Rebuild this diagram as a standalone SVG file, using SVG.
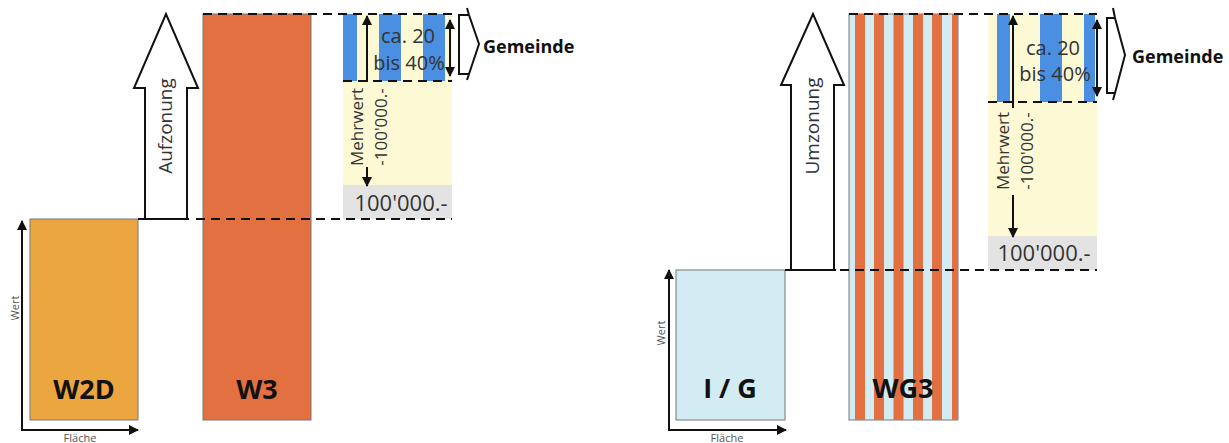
<svg xmlns="http://www.w3.org/2000/svg" width="1229" height="443" viewBox="0 0 1229 443">
<defs>
<style>
.txt{font-family:"Open Sans","Liberation Sans",sans-serif;fill:#333}
.big{font-family:"Open Sans","Liberation Sans",sans-serif;font-weight:700;font-size:27px;fill:#111;text-anchor:middle}
.ax{font-family:"Open Sans","Liberation Sans",sans-serif;font-size:11px;fill:#555;text-anchor:middle}
.gem{font-family:"Open Sans","Liberation Sans",sans-serif;font-weight:700;font-size:18px;fill:#111}
.dash{stroke:#111;stroke-width:2;stroke-dasharray:9 6;fill:none}
.ln{stroke:#111;stroke-width:2;fill:none}
.out{stroke:#111;stroke-width:2;fill:#fff;stroke-linejoin:miter}
.box{stroke:#777;stroke-width:1}
</style>
<marker id="ah" viewBox="0 0 10 10" refX="9" refY="5" markerWidth="5" markerHeight="5" orient="auto-start-reverse"><path d="M0,0 L10,5 L0,10 z" fill="#111"/></marker>
</defs>

<!-- LEFT PANEL -->
<g id="w2d">
<rect x="30" y="219" width="108" height="201" fill="#ECA63F" class="box"/>
<text class="big" x="84" y="399">W2D</text>
</g>
<g id="w3">
<rect x="203" y="14" width="108" height="406" fill="#E37041" class="box"/>
<text class="big" x="257" y="399">W3</text>
</g>
<g id="aufzonung">
<path class="out" d="M145,219 L145,88 L134,88 L166,14 L198,88 L187,88 L187,219 Z"/>
<text class="txt" font-size="19" text-anchor="middle" transform="translate(172,126) rotate(-90)">Aufzonung</text>
</g>
<g id="mehrwert-left">
<rect x="343" y="81" width="109" height="104" fill="#FDF9D4"/>
<rect x="343" y="14" width="109" height="67" fill="#FDF9D4"/>
<rect x="343" y="14" width="14" height="67" fill="#4A8FE2"/>
<rect x="379" y="14" width="22" height="67" fill="#4A8FE2"/>
<rect x="423" y="14" width="22" height="67" fill="#4A8FE2"/>
<rect x="343" y="185" width="109" height="34" fill="#E3E3E3"/>
<text class="txt" font-size="20" text-anchor="middle" x="408" y="43">ca. 20</text>
<text class="txt" font-size="20" text-anchor="middle" x="409" y="70">bis 40%</text>
<text class="txt" font-size="17" text-anchor="middle" transform="translate(363,127) rotate(-90)">Mehrwert</text>
<text class="txt" font-size="17" text-anchor="middle" transform="translate(387,127) rotate(-90)">-100'000.-</text>
<text class="txt" font-size="22" text-anchor="middle" x="401" y="211">100'000.-</text>
</g>
<g id="gemeinde-left">
<path class="ln" d="M467,8 L469,15 L479,44 L469,74 L467,80 M469,15 H459 V74 H469"/>
<text class="gem" x="483" y="53">Gemeinde</text>
</g>
<g id="axes-left">
<line class="ln" x1="22" y1="430" x2="22" y2="221" marker-end="url(#ah)"/>
<line class="ln" x1="21" y1="430" x2="138" y2="430" marker-end="url(#ah)"/>
<text class="ax" transform="translate(19,308) rotate(-90)">Wert</text>
<text class="ax" x="80" y="442">Fläche</text>
</g>

<!-- RIGHT PANEL -->
<g id="ig">
<rect x="676" y="270" width="109" height="150" fill="#D3EBF2" class="box"/>
<text class="big" x="730" y="398">I / G</text>
</g>
<g id="wg3">
<rect x="849" y="14" width="109" height="406" fill="#D3EBF2" class="box"/>
<rect x="855" y="14" width="10" height="406" fill="#E37041"/>
<rect x="874" y="14" width="10" height="406" fill="#E37041"/>
<rect x="893.5" y="14" width="10" height="406" fill="#E37041"/>
<rect x="913" y="14" width="10" height="406" fill="#E37041"/>
<rect x="932" y="14" width="10" height="406" fill="#E37041"/>
<rect x="952" y="14" width="6" height="406" fill="#E37041"/>
<text class="big" x="903" y="398">WG3</text>
</g>
<g id="umzonung">
<path class="out" d="M791,270 L791,85 L781,85 L813,14 L844,85 L834,85 L834,270 Z"/>
<text class="txt" font-size="19" text-anchor="middle" transform="translate(819,126) rotate(-90)">Umzonung</text>
</g>
<g id="mehrwert-right">
<rect x="988" y="14" width="109" height="222" fill="#FDF9D4"/>
<rect x="997" y="14" width="13" height="88" fill="#4A8FE2"/>
<rect x="1040" y="14" width="22" height="88" fill="#4A8FE2"/>
<rect x="1084" y="14" width="11" height="88" fill="#4A8FE2"/>
<rect x="988" y="236" width="109" height="34" fill="#E3E3E3"/>
<text class="txt" font-size="20" text-anchor="middle" x="1053" y="55">ca. 20</text>
<text class="txt" font-size="20" text-anchor="middle" x="1055" y="81">bis 40%</text>
<text class="txt" font-size="17" text-anchor="middle" transform="translate(1009,151) rotate(-90)">Mehrwert</text>
<text class="txt" font-size="17" text-anchor="middle" transform="translate(1033,151) rotate(-90)">-100'000.-</text>
<text class="txt" font-size="22" text-anchor="middle" x="1044" y="261">100'000.-</text>
</g>
<g id="gemeinde-right">
<path class="ln" d="M1113,8 L1115,18 L1125,55 L1115,93 L1113,100 M1115,18 H1107 V93 H1115"/>
<text class="gem" x="1132" y="63">Gemeinde</text>
</g>
<g id="axes-right">
<line class="ln" x1="669" y1="430" x2="669" y2="270" marker-end="url(#ah)"/>
<line class="ln" x1="668" y1="430" x2="786" y2="430" marker-end="url(#ah)"/>
<text class="ax" transform="translate(665,333) rotate(-90)">Wert</text>
<text class="ax" x="727" y="442">Fläche</text>
</g>

<!-- CONNECTORS / LINES -->
<g id="connectors">
<line class="ln" x1="138" y1="219" x2="189" y2="219"/>
<line class="dash" x1="203" y1="14" x2="452" y2="14"/>
<line class="dash" x1="196" y1="219" x2="452" y2="219"/>
<line class="dash" x1="343" y1="81" x2="452" y2="81"/>
<line class="ln" x1="367" y1="82" x2="367" y2="16" marker-end="url(#ah)"/>
<line class="ln" x1="367" y1="167" x2="367" y2="186" marker-end="url(#ah)"/>
<line class="ln" x1="450" y1="20" x2="450" y2="76" marker-start="url(#ah)" marker-end="url(#ah)"/>

<line class="ln" x1="785" y1="270" x2="836" y2="270"/>
<line class="dash" x1="849" y1="14" x2="1097" y2="14"/>
<line class="dash" x1="840" y1="270" x2="1097" y2="270"/>
<line class="dash" x1="988" y1="102" x2="1097" y2="102"/>
<line class="ln" x1="1013" y1="108" x2="1013" y2="16" marker-end="url(#ah)"/>
<line class="ln" x1="1013" y1="195" x2="1013" y2="237" marker-end="url(#ah)"/>
<line class="ln" x1="1097" y1="20" x2="1097" y2="96" marker-start="url(#ah)" marker-end="url(#ah)"/>
</g>
</svg>
